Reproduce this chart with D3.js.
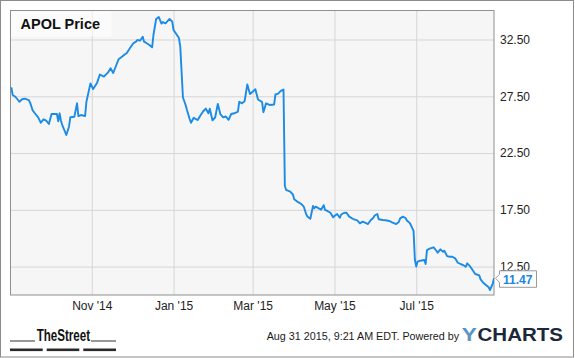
<!DOCTYPE html>
<html><head><meta charset="utf-8">
<script src="https://cdn.jsdelivr.net/npm/d3@7"></script>
<style>body{margin:0;background:#fff;} svg{display:block;font-family:"Liberation Sans",Arial,sans-serif;}</style>
</head><body><svg id="c" width="575" height="358"></svg>
<script>
const title = "APOL Price";
const startDate = "2014-09-01";
const endDate = "2015-08-28";
// days since 2014-09-01
const dayOffsets = [1,2,4,7,9,11,14,15,17,19,21,23,25,27,29,31,35,36,37,38,39,42,44,45,48,50,51,53,56,57,60,62,65,67,70,73,75,77,81,83,86,87,90,92,94,95,97,99,100,102,104,106,107,109,111,113,114,116,119,121,122,124,126,127,129,131,132,134,135,137,139,140,142,144,146,148,149,151,153,155,157,159,161,163,165,168,170,171,173,175,177,179,181,183,185,188,189,191,194,197,198,200,202,204,205,206,209,211,212,214,217,219,221,222,224,226,227,228,231,232,234,235,237,239,241,242,244,246,247,249,251,253,256,259,261,263,266,267,269,271,272,274,275,278,280,283,285,288,290,291,293,295,296,298,299,301,302,303,304,306,309,310,311,313,316,318,319,321,323,324,326,328,330,332,334,336,338,340,341,343,345,347,350,351,353,355,357,358,360,361];
const prices = [28.29,27.61,27.46,27.02,27.24,27.29,27.17,26.94,26.23,25.94,25.65,25.17,25.47,25.35,25.06,25.94,25.94,25.30,26.00,25.35,24.97,24.09,24.82,25.65,25.70,26.88,25.76,25.85,25.76,27.02,28.64,28.14,28.70,29.42,29.23,29.58,29.97,29.55,30.76,30.93,31.22,31.29,31.84,32.17,32.31,32.46,32.40,32.75,32.31,32.17,32.02,31.81,32.90,34.31,34.48,33.91,34.04,33.93,34.31,34.07,33.34,32.99,32.63,31.87,27.39,26.73,26.29,25.50,25.17,25.61,25.47,25.41,25.81,26.16,26.42,26.00,26.40,25.39,25.63,26.82,25.90,25.65,25.72,25.43,25.94,26.03,26.14,27.02,26.88,27.07,28.54,27.70,27.90,28.12,27.22,27.00,26.10,26.88,26.73,26.78,27.66,27.73,27.98,28.10,19.60,19.25,19.10,18.85,18.43,18.25,18.04,17.81,17.09,16.90,16.71,17.84,17.64,17.78,17.59,17.51,17.91,17.49,17.38,17.24,16.84,16.96,17.13,16.80,17.09,17.22,17.25,16.90,16.69,16.58,16.31,16.46,16.31,16.25,16.58,16.80,17.00,17.13,16.67,16.61,16.58,16.52,16.39,16.25,16.43,16.75,16.90,16.78,16.56,16.37,16.16,15.64,13.08,12.51,12.93,13.02,13.08,12.73,13.96,14.08,14.20,13.90,13.73,14.02,13.81,13.90,13.43,13.37,13.37,13.23,12.84,12.73,12.64,12.49,12.79,12.55,12.20,11.85,11.73,11.38,11.08,10.88,10.68,10.44,10.97,11.47];
const yTicks = [12.5, 17.5, 22.5, 27.5, 32.5];
const xTickDates = ["2014-11-01","2015-01-01","2015-03-01","2015-05-01","2015-07-01"];
const xTickLabels = ["Nov '14","Jan '15","Mar '15","May '15","Jul '15"];
const lastLabel = "11.47";
const footerText = "Aug 31 2015, 9:21 AM EDT. Powered by";
const brandLeft = "TheStreet";
const brandRightA = "Y", brandRightB = "CHARTS";

const svg = d3.select("#c");
const m = {l:10, t:10, r:494, b:295};
const parse = d3.utcParse("%Y-%m-%d");
const t0 = parse(startDate);
const x = d3.scaleUtc().domain([t0, parse(endDate)]).range([m.l, m.r]);
const y = d3.scaleLinear().domain([10, 35.1]).range([m.b, m.t]);
const data = dayOffsets.map((d,i)=>({date:d3.utcDay.offset(t0,d), v:prices[i]}));

const defs = svg.append("defs");
defs.append("clipPath").attr("id","clip").append("rect")
  .attr("x",m.l).attr("y",m.t).attr("width",m.r-m.l).attr("height",m.b-m.t);
const g = defs.append("linearGradient").attr("id","ygrad").attr("x1",0).attr("y1",0).attr("x2",0).attr("y2",1);
g.append("stop").attr("offset","0%").attr("stop-color","#3f93dc");
g.append("stop").attr("offset","100%").attr("stop-color","#7d93a6");

// outer frame
svg.append("rect").attr("x",0.5).attr("y",0.5).attr("width",573).attr("height",356.5)
  .attr("fill","#fff").attr("stroke","#8c8c8c");

// plot background
svg.append("rect").attr("x",m.l+0.5).attr("y",m.t+0.5).attr("width",m.r-m.l-0.5).attr("height",m.b-m.t-0.5)
  .attr("fill","#f6f6f6");

// y axis with grid
const yAxis = svg.append("g").attr("transform",`translate(${m.r},0)`)
  .call(d3.axisRight(y).tickValues(yTicks).tickSize(-(m.r-m.l)).tickPadding(6).tickFormat(d3.format(".2f")));
yAxis.select(".domain").remove();
yAxis.selectAll("line").attr("stroke","#d6d6d6");
yAxis.selectAll("text").attr("fill","#222").attr("font-size","12px").attr("font-family","Liberation Sans, Arial, sans-serif");

// x axis with grid
const xAxis = svg.append("g").attr("transform",`translate(0,${m.b})`)
  .call(d3.axisBottom(x).tickValues(xTickDates.map(parse)).tickSize(-(m.b-m.t)).tickPadding(6)
    .tickFormat((d,i)=>xTickLabels[i]));
xAxis.select(".domain").remove();
xAxis.selectAll("line").attr("stroke","#d6d6d6");
xAxis.selectAll("text").attr("fill","#222").attr("font-size","12px").attr("font-family","Liberation Sans, Arial, sans-serif");

// title backdrop + title
svg.append("rect").attr("x",m.l+0.5).attr("y",m.t+0.5).attr("width",101).attr("height",26)
  .attr("fill","#fff").attr("opacity",0.55);
svg.append("text").attr("x",20.5).attr("y",29).attr("font-size","14.5px").attr("font-weight","bold")
  .attr("fill","#111").text(title);

// plot border
svg.append("rect").attr("x",m.l+0.5).attr("y",m.t+0.5).attr("width",m.r-m.l-0.5).attr("height",m.b-m.t-0.5)
  .attr("fill","none").attr("stroke","#8f8f8f");

// price line
svg.append("path").datum(data).attr("clip-path","url(#clip)")
  .attr("fill","none").attr("stroke","#1b8be6").attr("stroke-width",1.9).attr("stroke-linejoin","round")
  .attr("d", d3.line().x(d=>x(d.date)).y(d=>y(d.v)));

// last value flag
const last = data[data.length-1];
const lx = x(last.date), ly = y(last.v);
const bx = lx+5.5, bw = 37, bh = 16.5, by = ly-7.5;
svg.append("path")
  .attr("d",`M${bx},${by} H${bx+bw} V${by+bh} H${bx} V${ly+4} L${lx+1.5},${ly} L${bx},${ly-4} Z`)
  .attr("fill","#fff").attr("stroke","#9a9a9a").attr("stroke-width",1);
svg.append("text").attr("x",bx+3.5).attr("y",ly+5.2).attr("font-size","12px").attr("font-weight","bold")
  .attr("fill","#1a86e0").text(lastLabel);

// footer: TheStreet
svg.append("text").attr("x",36.7).attr("y",340.8).attr("font-size","16px").attr("font-weight","bold")
  .attr("font-family","Liberation Sans Narrow, Arial Narrow, Liberation Sans, sans-serif")
  .attr("textLength",53.3).attr("lengthAdjust","spacingAndGlyphs").attr("fill","#111").text(brandLeft);
[[10,35],[91,116]].forEach(s=>svg.append("line").attr("x1",s[0]).attr("x2",s[1]).attr("y1",341).attr("y2",341)
  .attr("stroke","#333").attr("stroke-width",1));
[[10,42.7],[46.7,79.3],[83.3,116]].forEach(s=>svg.append("rect").attr("x",s[0]).attr("width",s[1]-s[0])
  .attr("y",348.5).attr("height",2.6).attr("fill","#2a2a2a"));

// footer text
svg.append("text").attr("x",266.7).attr("y",339.6).attr("font-size","11px").attr("fill","#1a1a1a")
  .attr("textLength",192.5).attr("lengthAdjust","spacingAndGlyphs").text(footerText);

// YCHARTS logo
svg.append("text").attr("x",461.7).attr("y",340.7).attr("font-size","18.5px").attr("font-weight","900")
  .attr("textLength",15).attr("lengthAdjust","spacingAndGlyphs").attr("fill","url(#ygrad)").text(brandRightA);
svg.append("text").attr("x",477.5).attr("y",340.7).attr("font-size","18.5px").attr("font-weight","900")
  .attr("textLength",85.5).attr("lengthAdjust","spacingAndGlyphs").attr("fill","#1b2838").text(brandRightB);
</script></body></html>
